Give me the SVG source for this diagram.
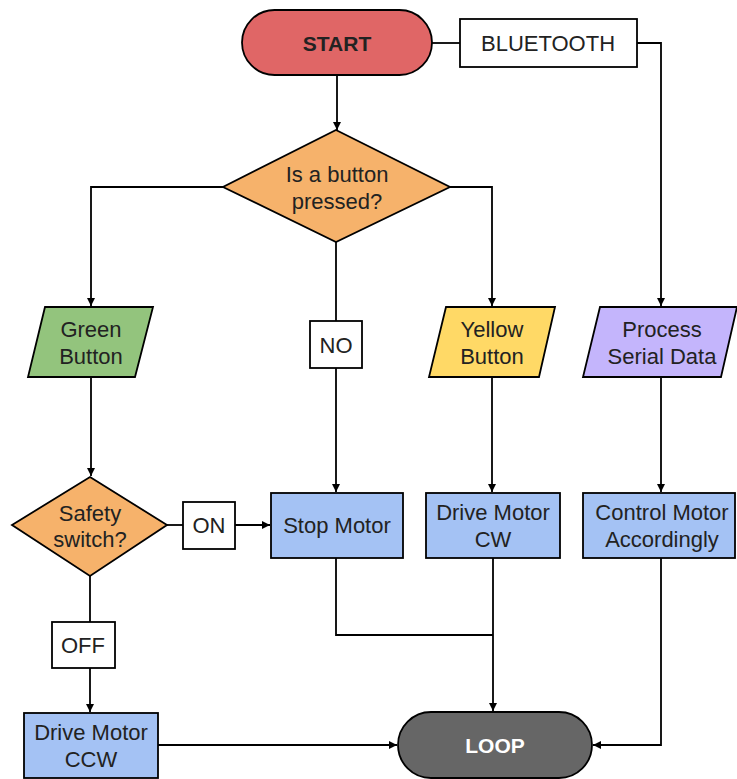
<svg xmlns="http://www.w3.org/2000/svg" width="737" height="779" viewBox="0 0 737 779">
<style>
.n{stroke:#000;stroke-width:1.8}
text{font-family:"Liberation Sans",Arial,sans-serif;font-size:22px;fill:#222;text-anchor:middle;dominant-baseline:central}
.b{font-weight:bold;font-size:21px}
.c{fill:none;stroke:#000;stroke-width:1.8}
</style>
<defs>
<marker id="a" viewBox="0 0 10 10" refX="10" refY="5" markerWidth="8" markerHeight="8" orient="auto" markerUnits="userSpaceOnUse">
<path d="M0,0 L10,5 L0,10 z" fill="#000"/>
</marker>
</defs>
<rect width="737" height="779" fill="#fff"/>
<g id="connectors">
<path class="c" d="M432,43 H460"/>
<path class="c" d="M637,43 H661 V306" marker-end="url(#a)"/>
<path class="c" d="M337,75 V130" marker-end="url(#a)"/>
<path class="c" d="M223,187 H91 V306" marker-end="url(#a)"/>
<path class="c" d="M450,187 H492 V306" marker-end="url(#a)"/>
<path class="c" d="M336,242 V321"/>
<path class="c" d="M336,368 V492" marker-end="url(#a)"/>
<path class="c" d="M91,377 V476" marker-end="url(#a)"/>
<path class="c" d="M492,377 V492" marker-end="url(#a)"/>
<path class="c" d="M661,377 V492" marker-end="url(#a)"/>
<path class="c" d="M167,525 H183"/>
<path class="c" d="M235,525 H270" marker-end="url(#a)"/>
<path class="c" d="M90,576 V622"/>
<path class="c" d="M90,668 V712" marker-end="url(#a)"/>
<path class="c" d="M336,558 V635 H493"/>
<path class="c" d="M493,558 V711" marker-end="url(#a)"/>
<path class="c" d="M158,745 H397" marker-end="url(#a)"/>
<path class="c" d="M661,558 V745 H593" marker-end="url(#a)"/>
</g>
<g id="start"><rect class="n" x="242" y="10" width="190" height="65" rx="32.5" fill="#e06666"/><text class="b" x="337" y="43">START</text></g>
<g id="bluetooth"><rect class="n" x="460" y="19" width="177" height="48" fill="#fff"/><text x="548" y="43">BLUETOOTH</text></g>
<g id="pressed"><polygon class="n" points="336,130 450,187 336,242 223,187" fill="#f6b26b"/><text x="337" y="174">Is a button</text><text x="337" y="201">pressed?</text></g>
<g id="green"><polygon class="n" points="45,307 153,307 135,377 28,377" fill="#93c47d"/><text x="91" y="329">Green</text><text x="91" y="356">Button</text></g>
<g id="no"><rect class="n" x="310" y="321" width="52" height="47" fill="#fff"/><text x="336" y="345">NO</text></g>
<g id="yellow"><polygon class="n" points="446,307 555,307 539,377 429,377" fill="#ffd966"/><text x="492" y="329">Yellow</text><text x="492" y="356">Button</text></g>
<g id="process"><polygon class="n" points="600,307 737,307 721,377 583,377" fill="#c4b5fc"/><text x="662" y="329">Process</text><text x="662" y="356">Serial Data</text></g>
<g id="safety"><polygon class="n" points="90,477 167,525 90,576 12,525" fill="#f6b26b"/><text x="90" y="513">Safety</text><text x="90" y="539">switch?</text></g>
<g id="on"><rect class="n" x="183" y="502" width="52" height="47" fill="#fff"/><text x="209" y="525">ON</text></g>
<g id="stop"><rect class="n" x="271" y="493" width="132" height="65" fill="#a4c2f4"/><text x="337" y="525">Stop Motor</text></g>
<g id="cw"><rect class="n" x="426" y="493" width="134" height="65" fill="#a4c2f4"/><text x="493" y="512">Drive Motor</text><text x="493" y="539">CW</text></g>
<g id="control"><rect class="n" x="583" y="493" width="152" height="65" fill="#a4c2f4"/><text x="662" y="512">Control Motor</text><text x="662" y="539">Accordingly</text></g>
<g id="off"><rect class="n" x="52" y="622" width="63" height="46" fill="#fff"/><text x="83" y="645">OFF</text></g>
<g id="ccw"><rect class="n" x="24" y="713" width="134" height="65" fill="#a4c2f4"/><text x="91" y="732">Drive Motor</text><text x="91" y="759">CCW</text></g>
<g id="loop"><rect class="n" x="398" y="712" width="194" height="66" rx="33" fill="#666"/><text class="b" x="495" y="745" style="fill:#fff">LOOP</text></g>
</svg>
